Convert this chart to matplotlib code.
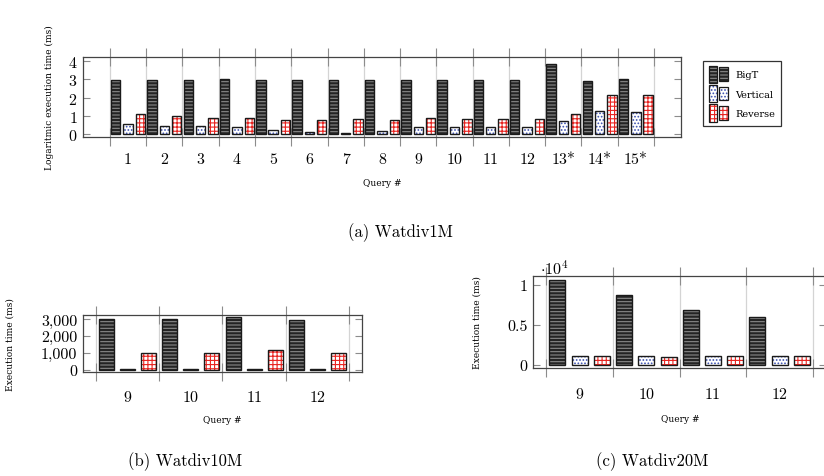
import numpy as np
import matplotlib.pyplot as plt
from matplotlib.patches import Rectangle
from matplotlib.legend_handler import HandlerBase
from matplotlib.ticker import FixedLocator, FuncFormatter, NullFormatter

plt.rcParams['font.family'] = ['cmr10', 'DejaVu Serif']
plt.rcParams['axes.formatter.use_mathtext'] = True
plt.rcParams['hatch.linewidth'] = 0.8

# -----------------------------
# Data
# -----------------------------
# (a) Watdiv1M, log10 of execution time in ms
queries_1m = ["1", "2", "3", "4", "5", "6", "7", "8", "9", "10", "11", "12", "13*", "14*", "15*"]
bigt_1m = [2.95, 2.99, 2.97, 3.03, 2.99, 2.95, 2.99, 2.99, 2.99, 2.99, 2.99, 2.99, 3.82, 2.94, 3.01]
vertical_1m = [0.57, 0.44, 0.44, 0.40, 0.22, 0.13, 0.07, 0.15, 0.40, 0.40, 0.40, 0.39, 0.70, 1.27, 1.23]
reverse_1m = [1.12, 1.01, 0.86, 0.90, 0.77, 0.75, 0.84, 0.77, 0.90, 0.84, 0.84, 0.84, 1.12, 2.15, 2.17]

# (b) Watdiv10M, execution time in ms
queries_10m = ["9", "10", "11", "12"]
bigt_10m = [2980, 2980, 3100, 2940]
vertical_10m = [70, 70, 70, 70]
reverse_10m = [1006, 1006, 1145, 1006]

# (c) Watdiv20M, execution time in ms
queries_20m = ["9", "10", "11", "12"]
bigt_20m = [10580, 8710, 6790, 6000]
vertical_20m = [1040, 1040, 1040, 1040]
reverse_20m = [1040, 1000, 1040, 1040]

series_names = ["BigT", "Vertical", "Reverse"]

# -----------------------------
# Styles
# -----------------------------
STYLES = {
    "BigT": dict(face="#242424", hatch="-----", hcolor="#8a8a8a"),
    "Vertical": dict(face="white", hatch=".....", hcolor="#3a4fb0"),
    "Reverse": dict(face="white", hatch="++++", hcolor="#e8231f"),
}
EDGE = "#1a1a1a"
SMALL = dict(family="DejaVu Serif", fontsize=6.5)


def draw_bars(ax, x, vals, name, width):
    st = STYLES[name]
    ax.bar(x, vals, width, color=st["face"], edgecolor=st["hcolor"],
           hatch=st["hatch"], linewidth=0, zorder=3)
    ax.bar(x, vals, width, fill=False, edgecolor=EDGE, linewidth=1.0, zorder=4)


def setup_axes(ax, labels, xpad, margin):
    n = len(labels)
    centers = np.arange(n)
    ax.set_xlim(-0.5 - margin, n - 0.5 + margin)
    ax.xaxis.set_major_locator(FixedLocator(np.arange(n + 1) - 0.5))
    ax.xaxis.set_major_formatter(NullFormatter())
    ax.xaxis.set_minor_locator(FixedLocator(centers))
    ax.set_xticks(centers, labels, minor=True)
    ax.tick_params(axis="x", which="major", direction="inout", length=13,
                   color="#8c8c8c", width=0.8, top=True, bottom=True)
    ax.tick_params(axis="x", which="minor", length=0, pad=xpad, labelsize=11.5)
    ax.tick_params(axis="y", which="major", direction="in", length=5,
                   color="#8c8c8c", width=0.8, left=True, right=True,
                   labelsize=11.5, pad=4)
    ax.grid(axis="x", which="major", color="#d4d4d4", linewidth=0.9, zorder=0)
    for s in ax.spines.values():
        s.set_color("#444444")
        s.set_linewidth(0.9)
        s.set_zorder(5)


def grouped(ax, labels, bigt, vert, rev, width, off):
    x = np.arange(len(labels))
    draw_bars(ax, x - off, bigt, "BigT", width)
    draw_bars(ax, x, vert, "Vertical", width)
    draw_bars(ax, x + off, rev, "Reverse", width)


class TwoBarHandler(HandlerBase):
    # two small bars side by side, like a pgfplots ybar legend image
    def create_artists(self, legend, orig_handle, xdescent, ydescent,
                       width, height, fontsize, trans):
        st = STYLES[orig_handle]
        w = width * 0.42
        arts = []
        for i, h in enumerate([height * 1.15, height * 0.9]):
            x0 = -xdescent + i * width * 0.55
            y0 = -ydescent + (height - h) / 2
            f = Rectangle((x0, y0), w, h, facecolor=st["face"], edgecolor=st["hcolor"],
                          hatch=st["hatch"], linewidth=0, transform=trans)
            e = Rectangle((x0, y0), w, h, fill=False, edgecolor=EDGE,
                          linewidth=0.9, transform=trans)
            arts += [f, e]
        return arts


fig = plt.figure(figsize=(8.24, 4.77), dpi=100)

# (a) Watdiv1M
ax1 = fig.add_axes([0.1007, 0.7107, 0.7257, 0.1677])
grouped(ax1, queries_1m, bigt_1m, vertical_1m, reverse_1m, 0.26, 0.34)
setup_axes(ax1, queries_1m, 11, 0.744)
ax1.set_ylim(-0.16, 4.23)
ax1.set_yticks([0, 1, 2, 3, 4])

# (b) Watdiv10M
ax2 = fig.add_axes([0.1007, 0.2180, 0.3386, 0.1195])
grouped(ax2, queries_10m, bigt_10m, vertical_10m, reverse_10m, 0.24, 0.33)
setup_axes(ax2, queries_10m, 13.5, 0.2)
ax2.set_ylim(-136, 3240)
ax2.set_yticks([0, 1000, 2000, 3000])
ax2.yaxis.set_major_formatter(FuncFormatter(lambda v, p: f"{int(v):,}"))

# (c) Watdiv20M
ax3 = fig.add_axes([0.6468, 0.2258, 0.3560, 0.1941])
grouped(ax3, queries_20m, bigt_20m, vertical_20m, reverse_20m, 0.24, 0.333)
setup_axes(ax3, queries_20m, 13.5, 0.2)
ax3.set_ylim(-450, 11125)
ax3.set_yticks([0, 5000, 10000])
ax3.yaxis.set_major_formatter(FuncFormatter(lambda v, p: f"{v / 1e4:g}"))

# Legend
leg = fig.legend(series_names, series_names,
                 handler_map={str: TwoBarHandler()},
                 loc="upper left", bbox_to_anchor=(698 / 824, 1 - 57 / 477),
                 bbox_transform=fig.transFigure, prop=dict(family="DejaVu Serif", size=7),
                 handlelength=2.0, handleheight=2.0, handletextpad=0.7,
                 borderpad=0.6, labelspacing=0.45, fancybox=False,
                 edgecolor="#333333", framealpha=1)
leg.get_frame().set_linewidth(0.9)

# Texts
fig.text(49 / 824, 1 - 98 / 477, "Logaritmic execution time (ms)", rotation=90,
         ha="center", va="center", **SMALL)
fig.text(382 / 824, 1 - 183 / 477, "Query #", ha="center", va="center", **SMALL)
fig.text(400 / 824, 1 - 233 / 477, "(a) Watdiv1M", ha="center", va="center", fontsize=12)

fig.text(10 / 824, 1 - 345 / 477, "Execution time (ms)", rotation=90,
         ha="center", va="center", **SMALL)
fig.text(222 / 824, 1 - 421 / 477, "Query #", ha="center", va="center", **SMALL)
fig.text(185 / 824, 1 - 462 / 477, "(b) Watdiv10M", ha="center", va="center", fontsize=12)

fig.text(477 / 824, 1 - 323 / 477, "Execution time (ms)", rotation=90,
         ha="center", va="center", **SMALL)
fig.text(680 / 824, 1 - 420 / 477, "Query #", ha="center", va="center", **SMALL)
fig.text(652 / 824, 1 - 462 / 477, "(c) Watdiv20M", ha="center", va="center", fontsize=12)
fig.text(540 / 824, 1 - 268 / 477, r"$\cdot10^4$", ha="left", va="center", fontsize=11.5,
         math_fontfamily="cm")

fig.savefig("out.png", dpi=100)
